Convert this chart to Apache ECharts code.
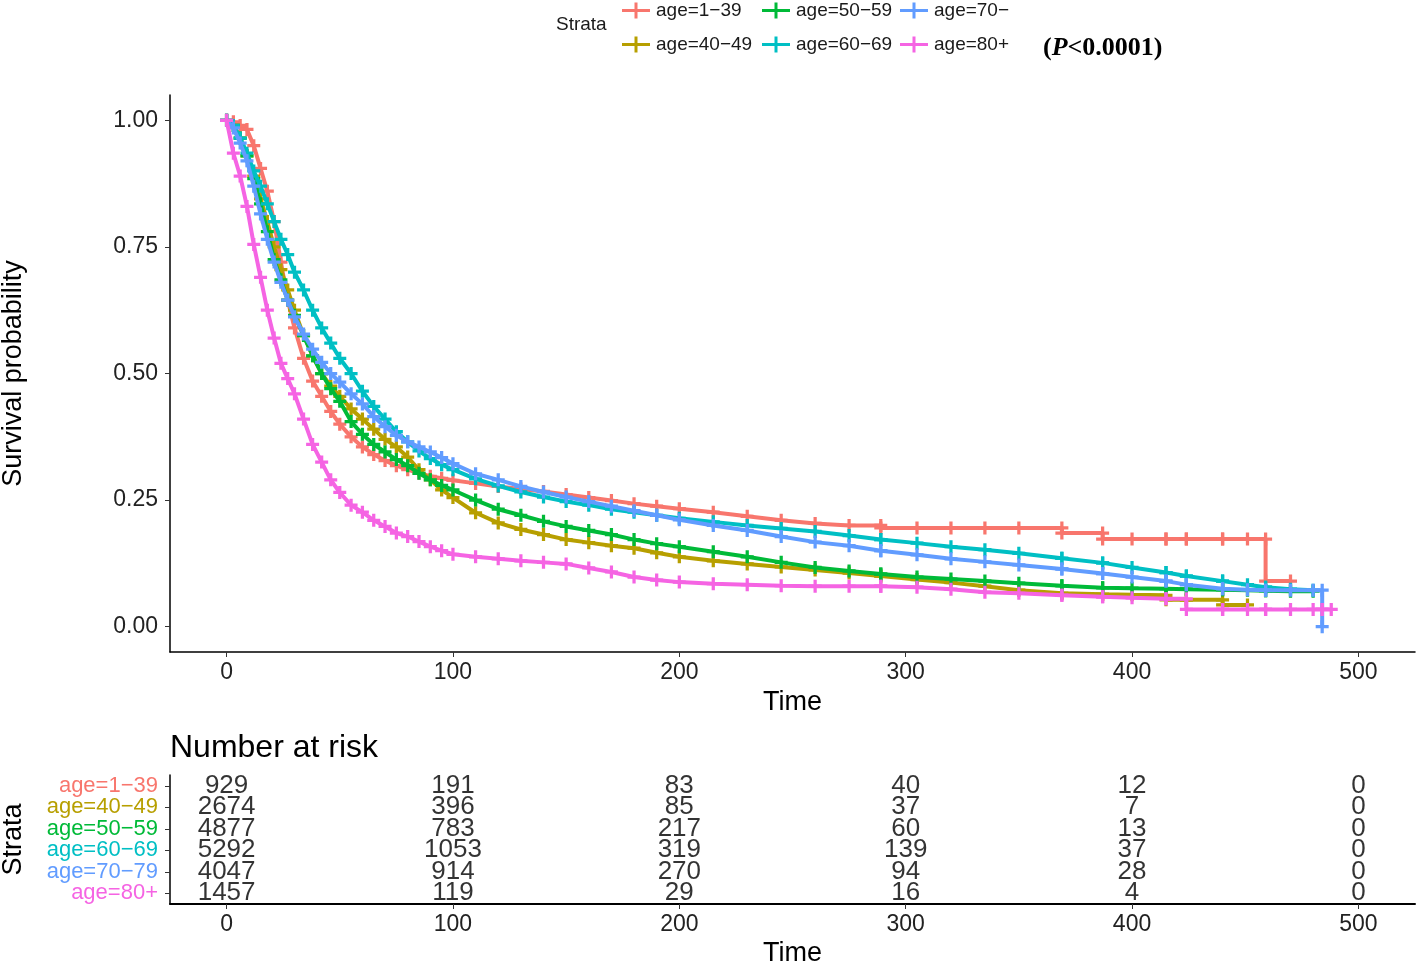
<!DOCTYPE html>
<html>
<head>
<meta charset="utf-8">
<script src="https://cdn.jsdelivr.net/npm/echarts@6/dist/echarts.min.js"></script>
<style>
html,body{margin:0;padding:0;background:#fff;}
#chart{width:1418px;height:965px;}
</style>
</head>
<body>
<div id="chart"></div>
<script>
// ---------- data ----------
const strata = ['age=1−39','age=40−49','age=50−59','age=60−69','age=70−79','age=80+'];
const colors = ['#F8766D','#B79F00','#00BA38','#00BFC4','#619CFF','#F564E3'];
const timeTicks = [0,100,200,300,400,500];
const survTicks = [0,0.25,0.5,0.75,1.0];

// time grid (repeated times mark vertical drops of the KM steps)
const time = [0,3,6,9,12,15,18,21,24,27,30,34,38,42,46,50,55,60,65,70,75,80,85,90,95,100,110,120,130,140,150,160,170,180,190,200,215,230,245,260,
              275,289,289,305,320,335,350,369,369,387,387,400,415,415,424,424,440,440,451,459,459,470,480,484,484,488];

const surv_1_39 = [1,0.997,0.99,0.982,0.95,0.905,0.86,0.80,0.72,0.645,0.59,0.53,0.485,0.455,0.425,0.40,0.375,0.355,0.34,0.328,0.318,0.31,0.303,0.297,0.293,0.289,0.283,0.277,0.272,0.267,0.261,0.255,0.249,0.243,0.238,0.233,0.226,0.218,0.21,0.204,
  0.2,0.2,0.195,0.195,0.195,0.195,0.195,0.195,0.185,0.185,0.173,0.173,0.173,0.173,0.173,0.173,0.173,0.173,0.173,0.173,0.09,0.09,null,null,null,null];
const surv_40_49 = [1,0.99,0.965,0.93,0.89,0.845,0.80,0.75,0.705,0.665,0.625,0.575,0.535,0.50,0.475,0.455,0.43,0.41,0.39,0.37,0.355,0.335,0.31,0.29,0.27,0.255,0.225,0.205,0.192,0.182,0.172,0.166,0.16,0.155,0.146,0.138,0.13,0.124,0.118,0.112,
  0.106,0.10,0.10,0.093,0.087,0.08,0.072,0.066,0.066,0.064,0.064,0.063,0.062,0.053,0.053,0.053,0.053,0.043,0.043,null,null,null,null,null,null,null];
const surv_50_59 = [1,0.99,0.965,0.93,0.885,0.835,0.78,0.725,0.685,0.645,0.615,0.575,0.535,0.50,0.47,0.445,0.405,0.38,0.36,0.345,0.33,0.318,0.303,0.29,0.279,0.27,0.25,0.232,0.22,0.208,0.198,0.19,0.182,0.172,0.164,0.158,0.148,0.138,0.127,0.117,
  0.11,0.104,0.104,0.098,0.094,0.09,0.086,0.081,0.081,0.077,0.077,0.076,0.075,0.075,0.074,0.074,0.073,0.073,0.072,0.071,0.071,0.07,0.07,null,null,null];
const surv_60_69 = [1,0.99,0.965,0.935,0.90,0.87,0.835,0.80,0.765,0.735,0.70,0.665,0.625,0.59,0.56,0.53,0.50,0.465,0.435,0.41,0.385,0.365,0.347,0.332,0.32,0.31,0.292,0.278,0.266,0.256,0.247,0.24,0.232,0.226,0.22,0.214,0.207,0.2,0.194,0.188,
  0.18,0.172,0.172,0.165,0.158,0.152,0.145,0.135,0.135,0.126,0.126,0.117,0.107,0.107,0.10,0.10,0.09,0.09,0.083,0.078,0.078,0.074,0.072,null,null,null];
const surv_70_79 = [1,0.985,0.955,0.92,0.87,0.815,0.765,0.72,0.68,0.645,0.612,0.578,0.548,0.522,0.50,0.483,0.46,0.44,0.415,0.395,0.378,0.365,0.355,0.345,0.334,0.322,0.302,0.29,0.277,0.266,0.256,0.247,0.238,0.229,0.22,0.211,0.2,0.19,0.178,0.167,
  0.16,0.15,0.15,0.142,0.134,0.128,0.122,0.114,0.114,0.105,0.105,0.098,0.09,0.09,0.083,0.083,0.075,0.075,0.073,0.072,0.072,0.072,0.072,0.072,0,null];
const surv_80p = [1,0.935,0.89,0.83,0.755,0.69,0.625,0.57,0.52,0.49,0.46,0.41,0.36,0.325,0.29,0.265,0.24,0.226,0.21,0.198,0.185,0.178,0.168,0.158,0.15,0.143,0.138,0.134,0.13,0.127,0.124,0.116,0.108,0.098,0.092,0.088,0.085,0.083,0.081,0.08,
  0.08,0.08,0.08,0.078,0.074,0.068,0.066,0.062,0.062,0.059,0.059,0.057,0.055,0.055,0.055,0.034,0.034,0.034,0.034,0.034,0.034,0.034,0.034,0.034,0.034,0.034];
const survAll = [surv_1_39,surv_40_49,surv_50_59,surv_60_69,surv_70_79,surv_80p];

const riskTimes = [0,100,200,300,400,500];
const risk_1_39  = [929,191,83,40,12,0];
const risk_40_49 = [2674,396,85,37,7,0];
const risk_50_59 = [4877,783,217,60,13,0];
const risk_60_69 = [5292,1053,319,139,37,0];
const risk_70_79 = [4047,914,270,94,28,0];
const risk_80p   = [1457,119,29,16,4,0];
const riskAll = [risk_1_39,risk_40_49,risk_50_59,risk_60_69,risk_70_79,risk_80p];

// ---------- chart ----------
const FONT = '"Liberation Sans", Arial, sans-serif';
const plus = 'path://M0,4.5H12V7.5H0Z M4.5,0H7.5V12H4.5Z';
const legendPlus = 'path://M0,6.5H28V9.5H0Z M12.5,0H15.5V16H12.5Z';

const chart = echarts.init(document.getElementById('chart'), null, {renderer:'canvas'});

const legendPos = [[622,1],[622,35],[762,1],[762,35],[900,1],[900,35]];
const legends = strata.map((name,i)=>({
  data:[name], left:legendPos[i][0], top:legendPos[i][1], padding:0,
  itemWidth:28, itemHeight:16, itemGap:0, icon:legendPlus, selectedMode:false,
  formatter: n => n === 'age=70−79' ? 'age=70−' : n,
  textStyle:{fontSize:19, fontFamily:FONT, color:'#1a1a1a', padding:[0,0,0,1]}
}));

const mainSeries = strata.map((name,i)=>({
  type:'line', name, xAxisIndex:0, yAxisIndex:0,
  data: time.map((t,k)=>[t, survAll[i][k]]).filter(d=>d[1]!==null),
  symbol:plus, symbolSize:13, showAllSymbol:true,
  lineStyle:{width:4, color:colors[i]}, itemStyle:{color:colors[i]},
  emphasis:{disabled:true}, z:2+i, animation:false
}));

const tableData = [];
strata.forEach((name,i)=>riskTimes.forEach((t,j)=>tableData.push([t, name, riskAll[i][j]])));

const tableSeries = {
  type:'scatter', name:'risk', xAxisIndex:1, yAxisIndex:1,
  data: tableData, symbolSize:1, itemStyle:{color:'rgba(0,0,0,0)'},
  label:{show:true, position:'inside', formatter:p=>String(p.value[2]),
         fontSize:26, fontFamily:FONT, color:'#000'},
  emphasis:{disabled:true}, silent:true, animation:false
};

const baseX = (gi)=>({
  type:'value', gridIndex:gi, min:-25, max:525,
  axisLine:{show:true, onZero:false, lineStyle:{color:'#000', width: gi ? 2 : 1.5}},
  axisTick:{show:true, length:5, customValues:timeTicks, lineStyle:{color:'#333', width:1}},
  axisLabel:{customValues:timeTicks, fontSize:23, fontFamily:FONT, color:'#222', margin:9},
  splitLine:{show:false},
  name:'Time', nameLocation:'middle', nameGap: gi ? 36 : 37,
  nameTextStyle:{fontSize:27, fontFamily:FONT, color:'#000'}
});

const option = {
  backgroundColor:'#fff',
  animation:false,
  textStyle:{fontFamily:FONT},
  legend: legends,
  graphic:[
    {type:'text', x:556, y:25, style:{text:'Strata', font:'19px "Liberation Sans"', fill:'#1a1a1a', verticalAlign:'middle', align:'left'}},
    {type:'text', x:1043, y:48, style:{text:'{a|(}{b|P}{a|<0.0001)}', verticalAlign:'middle', align:'left',
      rich:{a:{font:'bold 26px "Liberation Serif"', fill:'#000'}, b:{font:'italic bold 26px "Liberation Serif"', fill:'#000'}}}},
    {type:'text', x:170, y:748, style:{text:'Number at risk', font:'32px "Liberation Sans"', fill:'#000', verticalAlign:'middle', align:'left'}}
  ],
  grid:[
    {left:170, right:3, top:95, height:557, containLabel:false, outerBoundsMode:'none'},
    {left:170, right:3, top:775, height:129, containLabel:false, outerBoundsMode:'none'}
  ],
  xAxis:[ baseX(0), baseX(1) ],
  yAxis:[
    {type:'value', gridIndex:0, min:-0.05, max:1.05,
     axisLine:{show:true, onZero:false, lineStyle:{color:'#000', width:1.5}},
     axisTick:{show:true, length:5, customValues:survTicks, lineStyle:{color:'#333'}},
     axisLabel:{customValues:survTicks, formatter:v=>Number(v).toFixed(2), fontSize:23, fontFamily:FONT, color:'#222', margin:12},
     splitLine:{show:false},
     name:'Survival probability', nameLocation:'middle', nameGap:143, nameRotate:90,
     nameTextStyle:{fontSize:27, fontFamily:FONT, color:'#000'}},
    {type:'category', gridIndex:1, data:strata, inverse:true,
     axisLine:{show:true, onZero:false, lineStyle:{color:'#000', width:1.5}},
     axisTick:{show:true, length:5, alignWithLabel:true, interval:0, lineStyle:{color:'#333'}},
     axisLabel:{interval:0, fontSize:22, fontFamily:FONT, margin:12, color:(v,idx)=>colors[strata.indexOf(v)]},
     splitLine:{show:false},
     name:'Strata', nameLocation:'middle', nameGap:143, nameRotate:90,
     nameTextStyle:{fontSize:27, fontFamily:FONT, color:'#000'}}
  ],
  series: mainSeries.concat([tableSeries])
};
chart.setOption(option);
</script>
</body>
</html>
